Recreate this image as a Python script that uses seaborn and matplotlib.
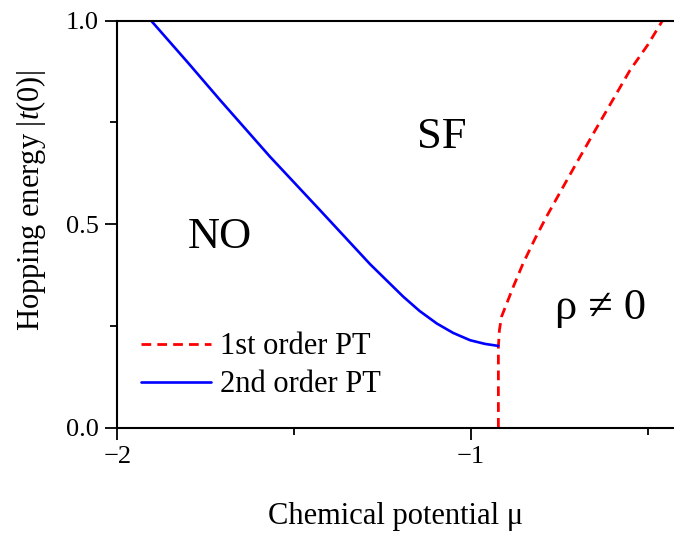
import matplotlib
matplotlib.use("Agg")
import matplotlib.pyplot as plt
import seaborn as sns
import pandas as pd

# phase boundary
second_mu = [-1.904, -1.80, -1.709, -1.568, -1.427, -1.285, -1.238, -1.191, -1.145,
             -1.096, -1.05, -1.002, -0.96, -0.922]
second_t = [1.0, 0.897, 0.805, 0.666, 0.535, 0.402, 0.362, 0.322, 0.287,
            0.256, 0.233, 0.215, 0.206, 0.201]

first_mu = [-0.922, -0.922, -0.922, -0.919, -0.913, -0.898, -0.880, -0.852, -0.818,
            -0.785, -0.74, -0.70, -0.65, -0.60, -0.55, -0.50, -0.458]
first_t = [0.0, 0.10, 0.199, 0.24, 0.273, 0.306, 0.346, 0.404, 0.465,
           0.520, 0.59, 0.652, 0.728, 0.803, 0.878, 0.94, 1.0]

phase_labels = ["NO", "SF", "ρ ≠ 0"]
phase_mu = [-1.709, -1.081, -0.634]
phase_t = [0.469, 0.714, 0.294]

sns.set_style("ticks", {"axes.edgecolor": "black", "text.color": "black",
                        "xtick.color": "black", "ytick.color": "black",
                        "axes.labelcolor": "black"})
plt.rcParams["font.family"] = ["Liberation Serif", "DejaVu Serif"]
plt.rcParams["mathtext.fontset"] = "custom"
plt.rcParams["mathtext.rm"] = "Liberation Serif"
plt.rcParams["mathtext.it"] = "Liberation Serif:italic"

fig = plt.figure(figsize=(6.74, 5.34), dpi=100)
ax = fig.add_axes([0.1739, 0.199, 1 - 0.1739, 0.9612 - 0.199])

df1 = pd.DataFrame({"mu": first_mu, "t": first_t})
df2 = pd.DataFrame({"mu": second_mu, "t": second_t})

sns.lineplot(data=df1, x="mu", y="t", sort=False, estimator=None, color="red",
             lw=2.0, ax=ax, label="1st order PT")
ax.lines[-1].set_dashes((3.5, 2.2))
sns.lineplot(data=df2, x="mu", y="t", sort=False, estimator=None, color="blue",
             lw=1.9, ax=ax, label="2nd order PT")

for lab, x, y in zip(phase_labels, phase_mu, phase_t):
    ax.text(x, y, lab, fontsize=32, ha="center", va="center")

ax.set_xlim(-2, -0.4253)
ax.set_ylim(0, 1.0)
ax.set_xticks([-2, -1])
ax.set_xticks([-1.5, -0.5], minor=True)
ax.set_yticks([0.0, 0.5, 1.0])
ax.set_yticks([0.25, 0.75], minor=True)
ax.set_yticklabels(["0.0", "0.5", "1.0"])
ax.tick_params(which="major", direction="out", length=8.5, width=1.3, labelsize=19, pad=5)
ax.tick_params(which="minor", direction="out", length=5, width=1.3)

for s in ["left", "bottom", "top"]:
    ax.spines[s].set_linewidth(1.5)
ax.spines["right"].set_visible(False)

ax.set_xlabel("Chemical potential μ", fontsize=22, labelpad=24)
ax.set_ylabel("Hopping energy |$\\mathit{t}$(0)|", fontsize=22)
ax.yaxis.set_label_coords(-0.125, 0.557)

ax.legend(loc="center left", bbox_to_anchor=(0.042, 0.152), frameon=False,
          fontsize=22, handlelength=2.3, handletextpad=0.3, labelspacing=0.3,
          borderpad=0, borderaxespad=0)

fig.savefig("out.png", dpi=100)
